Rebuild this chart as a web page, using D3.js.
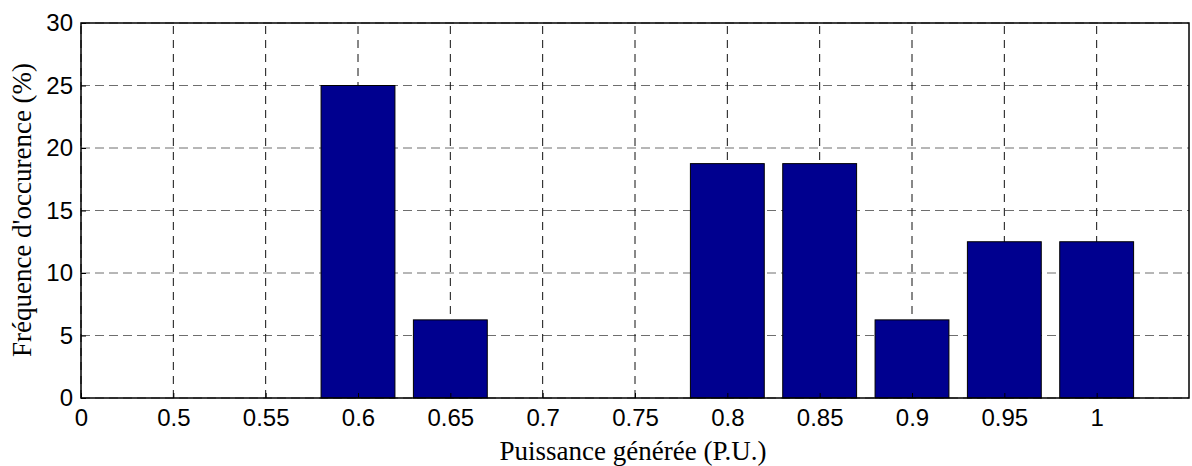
<!DOCTYPE html>
<html>
<head>
<meta charset="utf-8">
<script src="https://cdn.jsdelivr.net/npm/d3@7"></script>
<style>
  body { margin: 0; background: #fff; }
  svg { display: block; }
</style>
</head>
<body>
<svg width="1192" height="466"></svg>
<script>
// Data
var categories = ["0", "0.5", "0.55", "0.6", "0.65", "0.7", "0.75", "0.8", "0.85", "0.9", "0.95", "1"];
var frequencies = [0, 0, 0, 25, 6.25, 0, 0, 18.75, 18.75, 6.25, 12.5, 12.5];
var yTicks = [0, 5, 10, 15, 20, 25, 30];

var svg = d3.select("svg"),
    width = +svg.attr("width"),
    height = +svg.attr("height");

var margin = {left: 81, top: 23, right: 3, bottom: 68};
var plotW = width - margin.left - margin.right,
    plotH = height - margin.top - margin.bottom;

// x runs over category index, from 0 to 12
var x = d3.scaleLinear().domain([0, categories.length]).range([margin.left, margin.left + plotW]);
var y = d3.scaleLinear().domain([0, 30]).range([margin.top + plotH, margin.top]);
var step = x(1) - x(0);

var bars = categories.map(function (c, i) { return {i: i, v: frequencies[i]}; })
    .filter(function (d) { return d.v > 0; });

var g = svg.append("g");

// grid lines
g.selectAll(".hgrid")
    .data(yTicks)
    .enter().append("line")
    .attr("x1", x(0)).attr("x2", x(categories.length))
    .attr("y1", function (d) { return y(d); })
    .attr("y2", function (d) { return y(d); })
    .attr("stroke", "#6e6e6e")
    .attr("stroke-width", 1)
    .attr("stroke-dasharray", "9,5");

g.selectAll(".vgrid")
    .data(categories)
    .enter().append("line")
    .attr("x1", function (d, i) { return x(i); })
    .attr("x2", function (d, i) { return x(i); })
    .attr("y1", y(0)).attr("y2", y(30))
    .attr("stroke", "#111")
    .attr("stroke-width", 1)
    .attr("stroke-dasharray", "8,6");

// bars
g.selectAll(".bar")
    .data(bars)
    .enter().append("rect")
    .attr("x", function (d) { return x(d.i) - step * 0.4; })
    .attr("width", step * 0.8)
    .attr("y", function (d) { return y(d.v); })
    .attr("height", function (d) { return y(0) - y(d.v); })
    .attr("fill", "#00008f")
    .attr("stroke", "#000")
    .attr("stroke-width", 1);

// box
g.append("rect")
    .attr("x", x(0)).attr("y", y(30))
    .attr("width", plotW).attr("height", plotH)
    .attr("fill", "none")
    .attr("stroke", "#000")
    .attr("stroke-width", 1.5);

// axes
var xAxis = d3.axisBottom(x)
    .tickValues(d3.range(categories.length))
    .tickFormat(function (i) { return categories[i]; })
    .tickSizeInner(-5).tickSizeOuter(0).tickPadding(11);
var yAxis = d3.axisLeft(y)
    .tickValues(yTicks)
    .tickSizeInner(-5).tickSizeOuter(0).tickPadding(8);

var gx = svg.append("g")
    .attr("transform", "translate(0," + y(0) + ")")
    .call(xAxis);
var gy = svg.append("g")
    .attr("transform", "translate(" + x(0) + ",0)")
    .call(yAxis);

[gx, gy].forEach(function (a) {
    a.select(".domain").remove();
    a.selectAll(".tick line").attr("stroke", "#000");
    a.selectAll("text")
        .attr("font-family", "'Liberation Sans', Arial, sans-serif")
        .attr("font-size", 24)
        .attr("fill", "#000");
});

// axis titles
svg.append("text")
    .attr("x", 633)
    .attr("y", 460)
    .attr("text-anchor", "middle")
    .attr("font-family", "'Liberation Serif', 'Times New Roman', serif")
    .attr("font-size", 27)
    .text("Puissance générée (P.U.)");

svg.append("text")
    .attr("transform", "translate(31,210) rotate(-90)")
    .attr("text-anchor", "middle")
    .attr("font-family", "'Liberation Serif', 'Times New Roman', serif")
    .attr("font-size", 27)
    .text("Fréquence d'occurence (%)");
</script>
</body>
</html>
